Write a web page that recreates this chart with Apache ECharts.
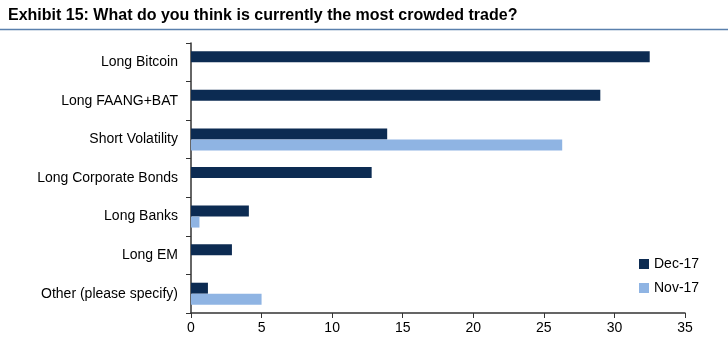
<!DOCTYPE html>
<html>
<head>
<meta charset="utf-8">
<script src="https://cdn.jsdelivr.net/npm/echarts@6/dist/echarts.min.js"></script>
<style>html,body{margin:0;padding:0;background:#fff}#c{width:728px;height:353px}</style>
</head>
<body>
<div id="c"></div>
<script>
const categories = ["Long Bitcoin", "Long FAANG+BAT", "Short Volatility", "Long Corporate Bonds", "Long Banks", "Long EM", "Other (please specify)"];
const dec17 = [32.5, 29.0, 13.9, 12.8, 4.1, 2.9, 1.2];
const nov17 = [null, null, 26.3, null, 0.6, null, 5.0];
const xTicks = [0, 5, 10, 15, 20, 25, 30, 35];

const font = "'Liberation Sans Narrow', 'Liberation Sans', Arial, sans-serif";
const chart = echarts.init(document.getElementById('c'));
chart.setOption({
  animation: false,
  title: {
    text: "Exhibit 15: What do you think is currently the most crowded trade?",
    left: 3, top: 3,
    textStyle: { fontFamily: font, fontWeight: 'bold', fontSize: 16, color: '#000' }
  },
  graphic: [{
    type: 'line', shape: { x1: 0, y1: 29.5, x2: 728, y2: 29.5 },
    style: { stroke: '#5a80ad', lineWidth: 1.5 }
  }],
  legend: {
    orient: 'vertical', left: 634, top: 252, itemWidth: 10, itemHeight: 10, itemGap: 10,
    icon: 'rect',
    textStyle: { fontFamily: "'Liberation Sans', Arial, sans-serif", fontSize: 14, color: '#000' },
    data: ['Dec-17', 'Nov-17']
  },
  grid: { left: 191, right: 43, top: 43, bottom: 40, containLabel: false },
  xAxis: {
    type: 'value', min: 0, max: 35, interval: 5,
    axisLine: { show: true, lineStyle: { color: '#333', width: 1.5 } },
    axisTick: { show: true, length: 5, lineStyle: { color: '#333' } },
    splitLine: { show: false },
    axisLabel: { fontFamily: "'Liberation Sans', Arial, sans-serif", fontSize: 14, color: '#000', margin: 8,
      formatter: v => xTicks.includes(v) ? String(v) : '' }
  },
  yAxis: {
    type: 'category', data: categories, inverse: true,
    axisLine: { show: true, lineStyle: { color: '#333', width: 1.5 } },
    axisTick: { show: true, length: 5, lineStyle: { color: '#333' } },
    axisLabel: { fontFamily: "'Liberation Sans', Arial, sans-serif", fontSize: 14, color: '#000', margin: 13 }
  },
  series: [
    { name: 'Dec-17', type: 'bar', data: dec17, barWidth: 11, barGap: '0%',
      itemStyle: { color: '#0c2b52' } },
    { name: 'Nov-17', type: 'bar', data: nov17, barWidth: 11, barGap: '0%',
      itemStyle: { color: '#8fb4e3' } }
  ]
});
</script>
</body>
</html>
